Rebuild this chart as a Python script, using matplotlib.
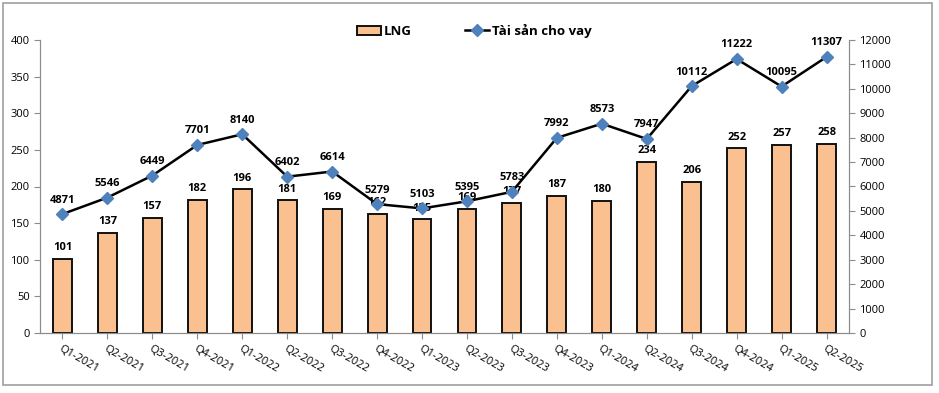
import numpy as np
import matplotlib.pyplot as plt
from matplotlib.patches import Rectangle

plt.rcParams['font.family'] = ['Open Sans', 'DejaVu Sans']

quarters = ['Q1-2021', 'Q2-2021', 'Q3-2021', 'Q4-2021', 'Q1-2022', 'Q2-2022',
            'Q3-2022', 'Q4-2022', 'Q1-2023', 'Q2-2023', 'Q3-2023', 'Q4-2023',
            'Q1-2024', 'Q2-2024', 'Q3-2024', 'Q4-2024', 'Q1-2025', 'Q2-2025']
lng = [101, 137, 157, 182, 196, 181, 169, 162, 155, 169, 177, 187,
       180, 234, 206, 252, 257, 258]
loans = [4871, 5546, 6449, 7701, 8140, 6402, 6614, 5279, 5103, 5395, 5783, 7992,
         8573, 7947, 10112, 11222, 10095, 11307]

fig = plt.figure(figsize=(9.39, 3.93), dpi=100)
ax = fig.add_axes([40/939, 1-333/393, 809/939, 293/393])
ax2 = ax.twinx()

x = np.arange(len(quarters))
ax.bar(x, lng, width=0.42, color='#FAC090', edgecolor='#111111', linewidth=1.4, label='LNG', zorder=2)
ax.set_ylim(0, 400)
ax.set_yticks(range(0, 401, 50))
ax.set_xlim(-0.5, len(quarters) - 0.5)
ax.set_xticks(x)
ax.set_xticklabels(quarters, rotation=-30, ha='left', rotation_mode='anchor', fontsize=8)

ax2.plot(x, loans, color='black', lw=1.8, marker='D', ms=6, mfc='#4F81BD', mec='#4F81BD',
         label='Tài sản cho vay', zorder=3)
ax2.set_ylim(0, 12000)
ax2.set_yticks(range(0, 12001, 1000))

for a in (ax, ax2):
    a.spines['top'].set_visible(False)
    for s in ('left', 'right', 'bottom'):
        a.spines[s].set_color('#8c8c8c')
    a.tick_params(axis='both', colors='#8c8c8c', labelcolor='black', labelsize=8, length=4)

for xi, v in zip(x, lng):
    ax.text(xi, v + 8, str(v), ha='center', va='bottom', fontsize=8, fontweight='bold')
for xi, v in zip(x, loans):
    ax2.text(xi, v + 350, str(v), ha='center', va='bottom', fontsize=8, fontweight='bold')

h1, l1 = ax.get_legend_handles_labels()
h2, l2 = ax2.get_legend_handles_labels()
fig.legend(h1 + h2, l1 + l2, loc='center', bbox_to_anchor=(0.505, 1-31/393), ncol=2,
           frameon=False, columnspacing=4.0, handlelength=1.8, handletextpad=0.25,
           prop={'weight': 'bold', 'size': 9.5})

fig.patches.append(Rectangle((3/939, 8/393), 929/939, 382/393, transform=fig.transFigure,
                             fill=False, edgecolor='#a0a0a0', lw=1.2))

fig.savefig('out.png', dpi=100)
